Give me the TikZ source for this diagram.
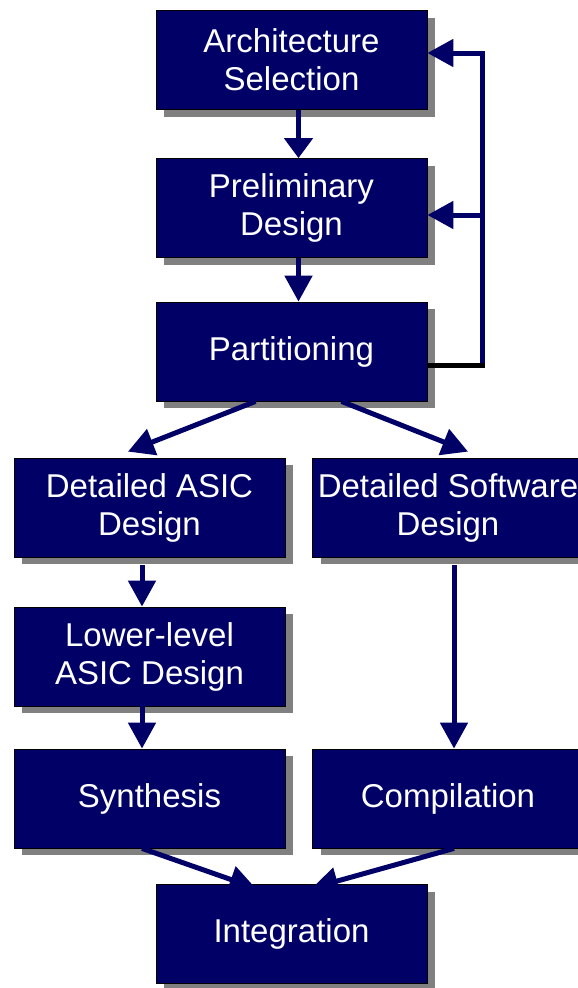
\documentclass[tikz,border=0pt]{standalone}
\usepackage{fontspec}
\setmainfont{Liberation Sans}
\usetikzlibrary{arrows.meta,shadows,calc}

\begin{document}
\begin{tikzpicture}[x=1pt, y=-1pt,
        stagebox/.style={draw=black, line width=0.8pt, shape=rectangle, fill=Bcolor, text=white,
            minimum width=\boxwidth, minimum height=\boxheight, inner sep=0pt, align=center,
            font=\fontsize{33}{38}\selectfont,
            drop shadow={shadow xshift=8pt, shadow yshift=-7pt, fill=Scolor, opacity=1}},
        flow/.style={draw=Bcolor, line width=5pt, -{Triangle[length=26pt, width=27pt]}},
        shortflow/.style={flow, -{Triangle[length=20pt, width=28pt]}}]
            \useasboundingbox (0, 0) rectangle (578, 988);
            \clip (0, 0) rectangle (578, 988);
            \definecolor{Bcolor}{RGB}{0, 0, 102}
            \definecolor{Scolor}{RGB}{128, 128, 128}
            \def\boxwidth{271pt}
            \def\boxheight{99pt}
            % top column
            \node[stagebox] (arch) at (291.5, 60) {Architecture\\Selection};
            \node[stagebox] (prelim) at (291.5, 208) {Preliminary\\Design};
            \node[stagebox] (part) at (291.5, 351.5) {Partitioning};
            % two branches
            \node[stagebox] (asic) at (149.5, 507.5) {Detailed ASIC\\Design};
            \node[stagebox] (soft) at (448, 507.5) {Detailed Software\\Design};
            \node[stagebox] (lower) at (149.5, 656.5) {Lower-level\\ASIC Design};
            \node[stagebox] (synth) at (149.5, 798.5) {Synthesis};
            \node[stagebox] (comp) at (448, 798.5) {Compilation};
            \node[stagebox] (integ) at (291.5, 934) {Integration};
            \draw[shortflow] ([xshift=7pt]arch.south) -- ([xshift=7pt]prelim.north);
            \draw[flow] ([xshift=7pt]prelim.south) -- ([xshift=7pt]part.north);
            \draw[flow] ([xshift=-36pt]part.south) -- ([xshift=-21.5pt, yshift=6pt]asic.north);
            \draw[flow] ([xshift=50pt]part.south) -- ([xshift=20pt, yshift=6pt]soft.north);
            \draw[flow] ([xshift=-7.5pt, yshift=-8pt]asic.south) -- ([xshift=-7.5pt]lower.north);
            \draw[flow] ([xshift=-7.5pt]lower.south) -- ([xshift=-7.5pt]synth.north);
            \draw[flow] ([xshift=6pt, yshift=-8pt]soft.south) -- ([xshift=6pt]comp.north);
            % tips run under the top of integ
            \begin{scope}
                \clip (0, 0) rectangle (integ.north -| 578, 0);
                \draw[flow] ([xshift=-7.5pt]synth.south) -- ([xshift=-36pt, yshift=-4pt]integ.north);
                \draw[flow] ([xshift=6pt]comp.south) -- ([xshift=20.5pt, yshift=-4pt]integ.north);
            \end{scope}
            % feedback loop
            \coordinate (fbcorner) at (482, 365);
            \draw[flow] (fbcorner) |- ($(arch.east)+(0, -7)$);
            \draw[flow] ($(prelim.east -| fbcorner)+(0, 7)$) -- ($(prelim.east)+(0, 7)$);
            \draw[black, line width=5pt] (part.east |- fbcorner) -- ([xshift=2.5pt]fbcorner);
\end{tikzpicture}
\end{document}
